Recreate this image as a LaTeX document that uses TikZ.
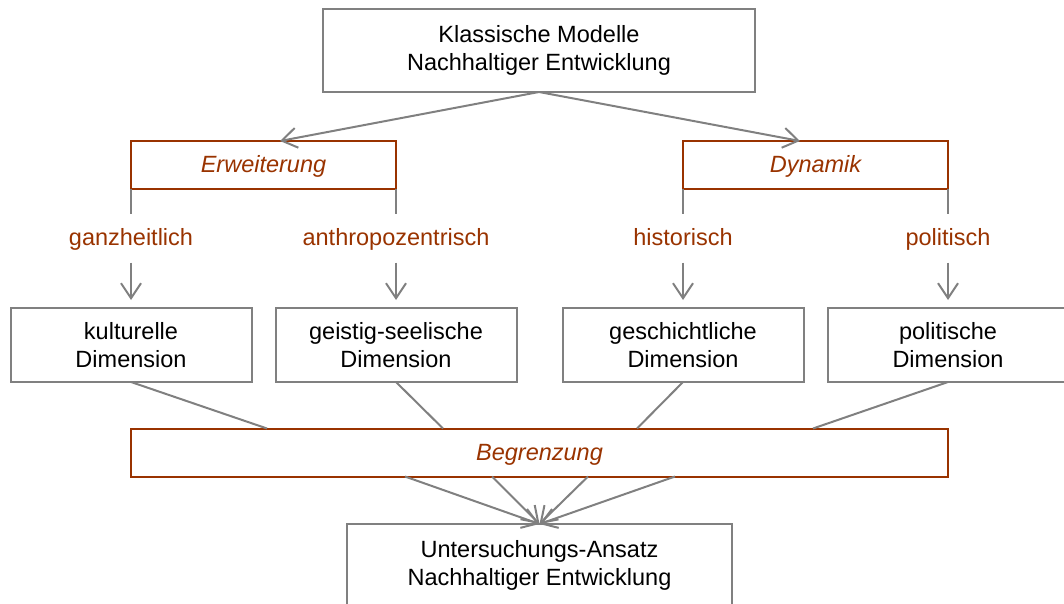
\documentclass[tikz,border=0pt]{standalone}
\usepackage{fontspec}
\setmainfont{Liberation Sans}
\usetikzlibrary{calc}
\usetikzlibrary{arrows.meta}
\definecolor{grau}{HTML}{808080}
\definecolor{rost}{HTML}{993300}

\begin{document}
\begin{tikzpicture}[x=1pt,y=-1pt,>={Straight Barb[length=15pt,width=20pt]},
    every node/.style={font=\fontsize{23.5}{27.5}\selectfont,inner sep=0pt,outer sep=0pt,align=center},
    kasten/.style={draw=grau,line width=2pt},
    dim/.style={kasten,minimum width=241,minimum height=74},
    achse/.style={draw=rost,text=rost,line width=2pt,minimum height=48,text height=17,text depth=2,font=\fontsize{23.5}{27.5}\selectfont\itshape},
    merkmal/.style={text=rost,minimum height=49,text height=17,text depth=2},
    verb/.style={draw=grau,line width=2pt}]
      \useasboundingbox (0,0) rectangle (1064,604);
      \node[kasten,minimum width=432,minimum height=83] (klass) at (539,50.5) {Klassische Modelle\\Nachhaltiger Entwicklung};
      \node[achse,minimum width=265] (erw) at (263.5,165) {Erweiterung};
      \node[achse,minimum width=265] (dyn) at (815.5,165) {Dynamik};
      \node[merkmal] (ganz) at (131,238) {ganzheitlich};
      \node[merkmal] (anth) at (396,238) {anthropozentrisch};
      \node[merkmal] (hist) at (683,238) {historisch};
      \node[merkmal] (poli) at (948,238) {politisch};
      \node[dim] (kult) at (131,345) {kulturelle\\Dimension};
      \node[dim] (geist) at (396,345) {geistig-seelische\\Dimension};
      \node[dim] (gesch) at (683,345) {geschichtliche\\Dimension};
      \node[dim] (polit) at (948,345) {politische\\Dimension};
      \node[achse,minimum width=817] (begr) at (539.5,452.5) {Begrenzung};
      \node[kasten,minimum width=385,minimum height=83] (unters) at (539.5,565.5) {Untersuchungs-Ansatz\\Nachhaltiger Entwicklung};
      \draw[verb,->] (klass.south) -- ($(erw.north)+(16.5,0)$);
      \draw[verb,->] (klass.south) -- ($(dyn.north)+(-15.5,0)$);
      \draw[verb] (erw.south west) -- (ganz.north);
      \draw[verb] (erw.south east) -- (anth.north);
      \draw[verb] (dyn.south west) -- (hist.north);
      \draw[verb] (dyn.south east) -- (poli.north);
        \draw[verb,->,shorten >=8pt] (ganz) -- (kult);
        \draw[verb,->,shorten >=8pt] (anth) -- (geist);
        \draw[verb,->,shorten >=8pt] (hist) -- (gesch);
        \draw[verb,->,shorten >=8pt] (poli) -- (polit);
      \draw[verb] (kult.south) -- ($(begr.north)+(-272.5,0)$);
      \draw[verb] (geist.south) -- ($(begr.north)+(-96.5,0)$);
      \draw[verb] (gesch.south) -- ($(begr.north)+(97.5,0)$);
      \draw[verb] (polit.south) -- ($(begr.north)+(273.5,0)$);
      %\draw[verb,->] (begr) -- (unters);
      \foreach \dx in {-134.5,-47.5,48.5,135.5}
        \draw[verb,->] ($(begr.south)+(\dx,0)$) -- (unters.north);
    \end{tikzpicture}
\end{document}
